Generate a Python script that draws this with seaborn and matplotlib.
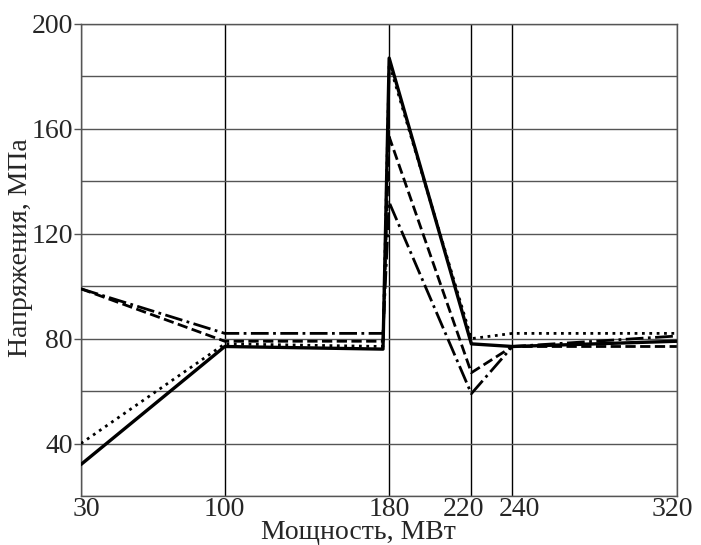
import pandas as pd
import seaborn as sns
import matplotlib.pyplot as plt
from matplotlib.transforms import ScaledTranslation

figure_size = (7.01, 5.45)

# power, MW (two points near 180 give the almost vertical jump)
power = [30, 100, 177, 180, 220, 240, 320]

stress_solid = [32, 77, 76, 187, 78, 77, 79]
stress_dotted = [40, 78, 77, 185, 80, 82, 82]
stress_dashed = [99, 79, 79, 157, 67, 77, 77]
stress_dashdot = [99, 82, 82, 132, 59, 77, 81]

x_ticks = [30, 100, 180, 220, 240, 320]
y_ticks = [40, 80, 120, 160, 200]
y_grid = [20, 40, 60, 80, 100, 120, 140, 160, 180, 200]

sns.set_style("white")
plt.rcParams['font.family'] = ['Liberation Serif', 'DejaVu Serif']

fig = plt.figure(figsize=figure_size, dpi=100)
ax = fig.add_axes([0.1155, 0.09, 0.85, 0.866])

series = [
	(stress_solid, '-', 2.4),
	(stress_dotted, ':', 2.0),
	(stress_dashed, '--', 2.0),
	(stress_dashdot, '-.', 2.0),
]
for values, ls, lw in series:
	df = pd.DataFrame({'x': power, 'y': values})
	sns.lineplot(data=df, x='x', y='y', ax=ax, color='k', linestyle=ls,
		linewidth=lw, sort=False, zorder=3)

# grid
for xv in x_ticks:
	ax.axvline(xv, color='k', lw=1.0, zorder=1)
for yv in y_grid:
	ax.axhline(yv, color='#555555', lw=1.0, zorder=1)

ax.set_xlim(30, 320)
ax.set_ylim(20, 200)
ax.set_xticks(x_ticks)
ax.set_yticks(y_ticks)
ax.tick_params(axis='x', length=0, labelsize=20, pad=1)
ax.tick_params(axis='y', length=5, width=1, color='#555555', labelsize=20, pad=1, left=True)
for s in ax.spines.values():
	s.set_color('#555555')
	s.set_linewidth(1.0)

# nudge crowded x labels apart like in the original
shifts = {30: 5, 220: -8, 240: 7, 320: -5}
for xv, lab in zip(x_ticks, ax.get_xticklabels()):
	dx = shifts.get(xv, 0)
	if dx:
		lab.set_transform(lab.get_transform() + ScaledTranslation(dx / 100, 0, fig.dpi_scale_trans))

ax.set_xlabel('Мощность, МВт', fontsize=20)
ax.xaxis.set_label_coords(0.465, -0.052, transform=ax.transAxes)
ax.xaxis.label.set_va('top')
ax.set_ylabel('Напряжения, МПа', fontsize=20)
ax.yaxis.set_label_coords(-0.08, 0.527)

fig.savefig('out.png', dpi=100)
